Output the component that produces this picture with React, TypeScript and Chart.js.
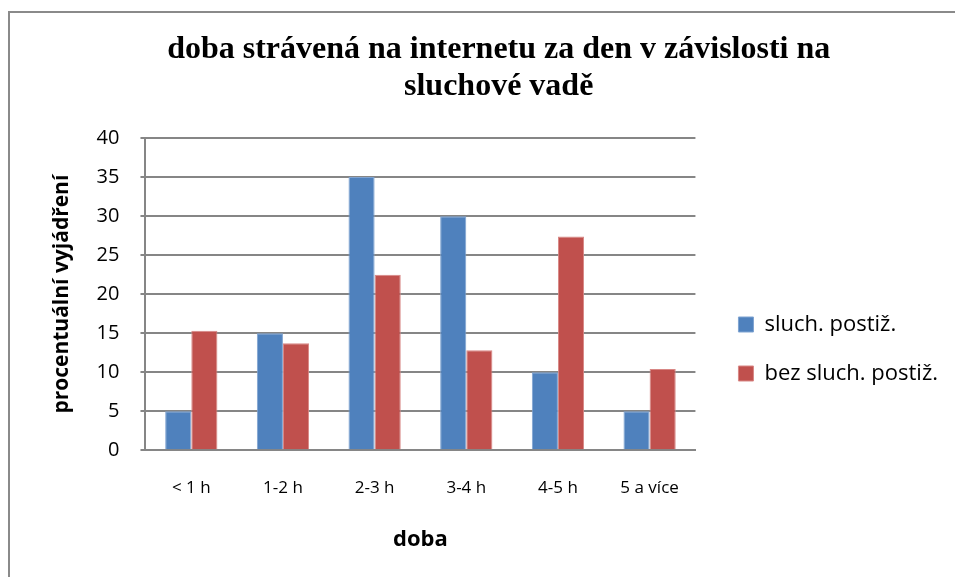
import React, { useEffect, useRef } from "react";
import { Chart, registerables } from "chart.js";

Chart.register(...registerables);

const categories = ["< 1 h", "1-2 h", "2-3 h", "3-4 h", "4-5 h", "5 a více"];
const sluchPostiz = [5, 15, 35, 30, 10, 5];
const bezSluchPostiz = [15.3, 13.7, 22.5, 12.8, 27.4, 10.4];
const seriesNames = ["sluch. postiž.", "bez sluch. postiž."];
const titleLines = ["doba strávená na internetu za den v závislosti na", "sluchové vadě"];
const xTitle = "doba";
const yTitle = "procentuální vyjádření";
const yTicks = { min: 0, max: 40, step: 5 };

const SANS = "'Open Sans', 'Noto Sans', sans-serif";
const SERIF = "'Liberation Serif', 'Times New Roman', serif";

export default function App() {
  const ref = useRef<HTMLCanvasElement | null>(null);

  useEffect(() => {
    if (!ref.current) return;
    const chart = new Chart(ref.current, {
      type: "bar",
      data: {
        labels: categories,
        datasets: [
          {
            label: seriesNames[0],
            data: sluchPostiz,
            backgroundColor: "#4F81BD",
            borderColor: "#7FA3D1",
            borderWidth: 1,
            categoryPercentage: 0.57,
            barPercentage: 1,
          },
          {
            label: seriesNames[1],
            data: bezSluchPostiz,
            backgroundColor: "#C0504D",
            borderColor: "#D88785",
            borderWidth: 1,
            categoryPercentage: 0.57,
            barPercentage: 1,
          },
        ],
      },
      options: {
        animation: false,
        responsive: false,
        maintainAspectRatio: false,
        layout: { padding: { left: 39.4, right: 28, top: 0, bottom: 36 } },
        plugins: {
          title: {
            display: true,
            text: titleLines,
            color: "#000",
            font: { family: SERIF, size: 32, weight: "bold", lineHeight: 1.15 },
            padding: { top: 18.5, bottom: 33 },
          },
          legend: {
            position: "right",
            maxWidth: 400,
            title: {
              display: true,
              text: " ",
              font: { family: SANS, size: 20 },
              padding: { top: 0, bottom: 104 },
            },
            labels: {
              color: "#000",
              boxWidth: 15,
              boxHeight: 15,
              padding: 27,
              font: { family: SANS, size: 22 },
            },
          },
          tooltip: { enabled: false },
        },
        scales: {
          x: {
            grid: { display: false, drawTicks: false },
            border: { display: true, color: "#868686", width: 2 },
            ticks: { color: "#000", padding: 28, font: { family: SANS, size: 17 } },
            title: {
              display: true,
              text: xTitle,
              color: "#000",
              font: { family: SANS, size: 22, weight: "bold" },
              padding: { top: 0, bottom: 4 },
            },
          },
          y: {
            min: yTicks.min,
            max: yTicks.max,
            ticks: { stepSize: yTicks.step, color: "#000", padding: 21, font: { family: SANS, size: 20 } },
            grid: { color: "#868686", lineWidth: 2, tickLength: 5 },
            border: { display: true, color: "#868686", width: 2 },
            title: {
              display: true,
              text: yTitle,
              color: "#000",
              font: { family: SANS, size: 21, weight: "bold" },
              padding: { top: 0, bottom: 1 },
            },
          },
          y2: {
            position: "right",
            display: true,
            grid: { display: false, drawTicks: false },
            border: { display: false },
            ticks: { display: false },
            afterFit: (axis: any) => {
              axis.width = 16;
            },
          },
        },
      },
    });
    return () => chart.destroy();
  }, []);

  return (
    <div style={{ position: "fixed", left: 0, top: 0, width: 955, height: 577, overflow: "hidden", background: "#fff" }}>
      <div
        style={{
          position: "absolute",
          left: 2,
          top: -25,
          fontFamily: SERIF,
          fontSize: 30,
          lineHeight: "30px",
          whiteSpace: "nowrap",
          color: "#000",
        }}
      >
        Graf 9.5
      </div>
      <div
        style={{
          position: "absolute",
          left: 8,
          top: 11,
          width: 1000,
          height: 620,
          border: "2px solid #8a8a8a",
          boxSizing: "border-box",
        }}
      />
      <canvas
        ref={ref}
        width={966}
        height={580}
        style={{ position: "absolute", left: 10, top: 13, width: 966, height: 580 }}
      />
    </div>
  );
}
